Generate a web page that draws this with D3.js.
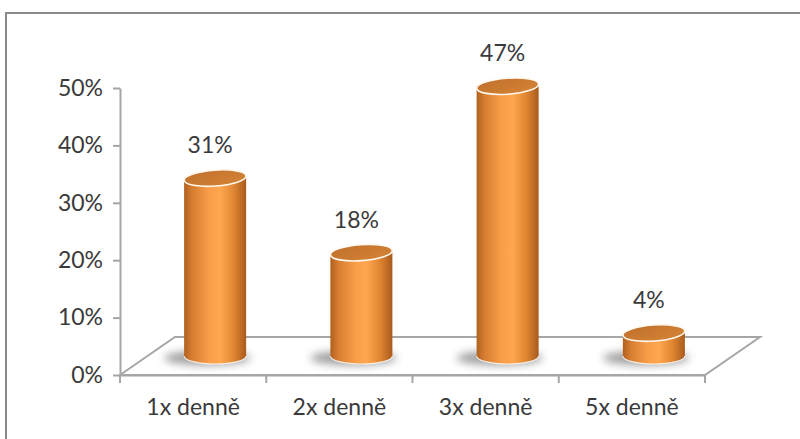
<!DOCTYPE html>
<html>
<head>
<meta charset="utf-8">
<script src="https://cdn.jsdelivr.net/npm/d3@7"></script>
<style>
  html, body { margin: 0; padding: 0; background: #fff; }
  svg { display: block; }
  text { font-family: Lato, "Open Sans", sans-serif; fill: #3a3a3a; }
</style>
</head>
<body>
<svg id="chart" width="800" height="439"></svg>
<script>
const categories = ["1x denně", "2x denně", "3x denně", "5x denně"];
const values = [0.31, 0.18, 0.47, 0.04];
const valueLabels = ["31%", "18%", "47%", "4%"];
const yTicks = [0, 0.1, 0.2, 0.3, 0.4, 0.5];

const svg = d3.select("#chart");
const W = 800, H = 439;

// chart border (extends past the right and bottom edges)
svg.append("rect")
  .attr("x", 6).attr("y", 13).attr("width", 820).attr("height", 460)
  .attr("fill", "#fff").attr("stroke", "#8a8a8a").attr("stroke-width", 2);

const x = d3.scaleBand().domain(categories).range([120, 705]).padding(0);
const y = d3.scaleLinear().domain([0, 0.5]).range([375, 88]);

const depthX = 55, depthY = -38;

const defs = svg.append("defs");
const grad = defs.append("linearGradient").attr("id", "cyl").attr("x1", "0").attr("x2", "1").attr("y1", "0").attr("y2", "0");
[["0%", "#b0601f"], ["12%", "#d47c30"], ["40%", "#f99d48"], ["58%", "#ffa650"], ["80%", "#e08632"], ["100%", "#a95a1c"]]
  .forEach(([o, c]) => grad.append("stop").attr("offset", o).attr("stop-color", c));
const topGrad = defs.append("linearGradient").attr("id", "cyltop").attr("x1", "0").attr("x2", "1").attr("y1", "0").attr("y2", "1");
[["0%", "#c0702c"], ["100%", "#d58435"]].forEach(([o, c]) => topGrad.append("stop").attr("offset", o).attr("stop-color", c));
const blur = defs.append("filter").attr("id", "blur").attr("x", "-50%").attr("y", "-100%").attr("width", "200%").attr("height", "300%");
blur.append("feGaussianBlur").attr("stdDeviation", 4);

// floor
const x0 = x.range()[0], x1 = x.range()[1], yb = y(0);
svg.append("path")
  .attr("d", `M${x0},${yb} L${x0 + depthX},${yb + depthY} L${x1 + depthX},${yb + depthY} L${x1},${yb} Z`)
  .attr("fill", "#fff").attr("stroke", "#a6a6a6").attr("stroke-width", 2).attr("stroke-linejoin", "miter");

// y axis
const yAxis = d3.axisLeft(y).tickValues(yTicks).tickFormat(d3.format(".0%")).tickSize(7).tickSizeOuter(0).tickPadding(10);
const gy = svg.append("g").attr("transform", `translate(${x0},0)`).call(yAxis);
gy.select(".domain").attr("stroke", "#a6a6a6").attr("stroke-width", 2);
gy.selectAll(".tick line").attr("stroke", "#a6a6a6").attr("stroke-width", 2);
gy.selectAll(".tick text").style("font-size", "23px").attr("fill", "#3a3a3a").style("font-family", "Lato, 'Open Sans', sans-serif");

// x axis
const xAxis = d3.axisBottom(x).tickSize(0).tickPadding(24);
const gx = svg.append("g").attr("transform", `translate(0,${yb})`).call(xAxis);
gx.select(".domain").attr("stroke", "#a6a6a6").attr("stroke-width", 2);
gx.selectAll(".tick text").style("font-size", "23px").attr("fill", "#3a3a3a").style("font-family", "Lato, 'Open Sans', sans-serif");
const edges = categories.map(c => x(c)).concat([x1]);
gx.selectAll(".edge").data(edges).enter().append("line")
  .attr("x1", d => d).attr("x2", d => d).attr("y1", 0).attr("y2", 8)
  .attr("stroke", "#a6a6a6").attr("stroke-width", 2);

// cylinders
const bw = 62, rx = bw / 2, ry = 8;
const bars = svg.append("g").selectAll("g").data(categories.map((c, i) => ({ c, v: values[i], l: valueLabels[i] })))
  .enter().append("g");

bars.each(function (d) {
  const g = d3.select(this);
  const cx = x(d.c) + x.bandwidth() / 2 + 22;
  const base = y(0) + depthY / 2;
  const top = y(d.v) + depthY / 2;
  // shadow
  g.append("ellipse").attr("cx", cx - 8).attr("cy", base + 2).attr("rx", rx + 12).attr("ry", 7)
    .attr("fill", "#7a7a7a").attr("opacity", 0.75).attr("filter", "url(#blur)");
  // body
  g.append("path")
    .attr("d", `M${cx - rx},${top} L${cx - rx},${base} A${rx},${ry} 0 0 0 ${cx + rx},${base} L${cx + rx},${top} Z`)
    .attr("fill", "url(#cyl)");
  g.append("path")
    .attr("d", `M${cx - rx},${base} A${rx},${ry} 0 0 0 ${cx + rx},${base}`)
    .attr("fill", "none").attr("stroke", "#fff").attr("stroke-width", 1.2).attr("opacity", 0.8);
  // top
  g.append("ellipse").attr("cx", cx).attr("cy", top).attr("rx", rx).attr("ry", ry)
    .attr("transform", `rotate(-4,${cx},${top})`)
    .attr("fill", "url(#cyltop)").attr("stroke", "#fff8ee").attr("stroke-width", 1.6);
  // label
  g.append("text").attr("x", cx - 5).attr("y", top - 25).attr("text-anchor", "middle")
    .style("font-size", "23px").text(d.l);
});
</script>
</body>
</html>
